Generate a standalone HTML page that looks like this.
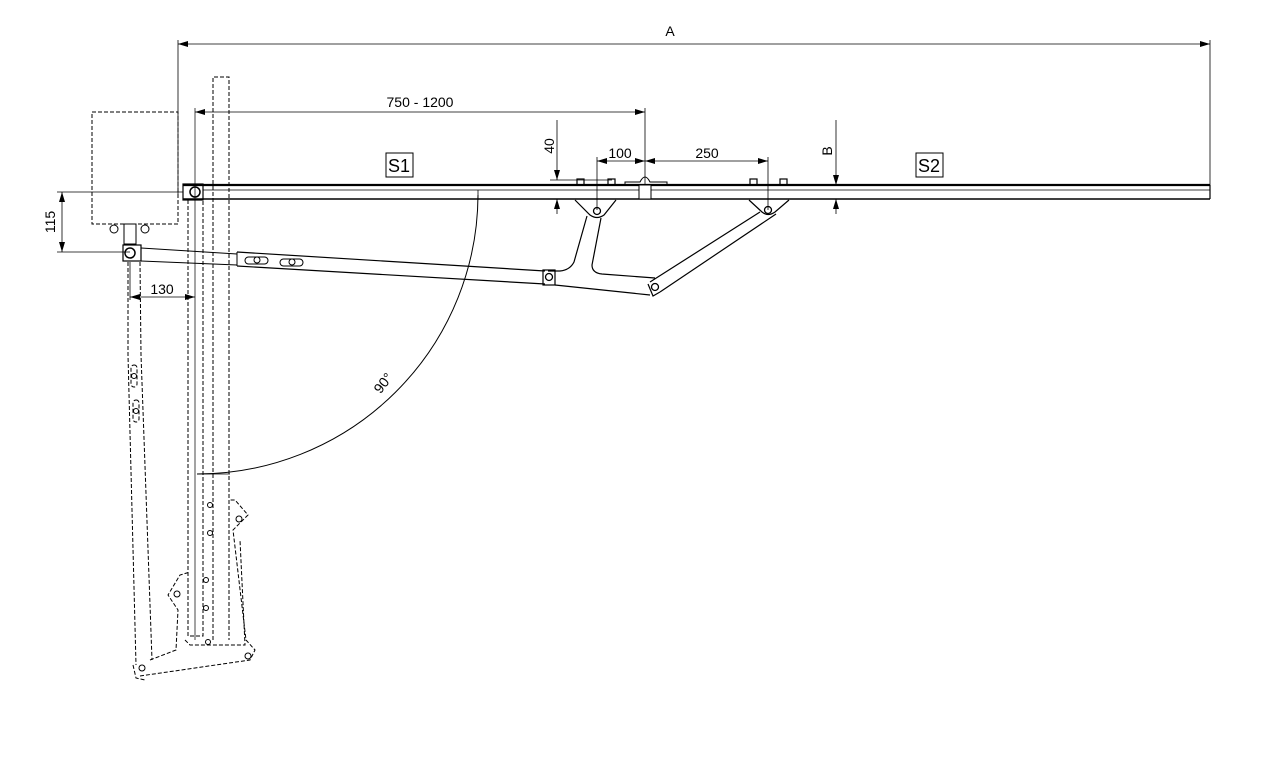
<!DOCTYPE html>
<html><head><meta charset="utf-8"><style>
html,body{margin:0;padding:0;background:#fff;}
svg{display:block;font-family:"Liberation Sans",sans-serif;}
</style></head><body>
<svg width="1271" height="770" viewBox="0 0 1271 770" xmlns="http://www.w3.org/2000/svg">
<defs>
<marker id="ar" viewBox="0 0 10 6" refX="10" refY="3" markerWidth="10" markerHeight="6" orient="auto-start-reverse" markerUnits="userSpaceOnUse"><path d="M0,0 L10,3 L0,6 z" fill="#000"/></marker>
</defs>
<g stroke="#000" fill="none" stroke-width="1">
<line x1="178" y1="40" x2="178" y2="195" stroke-width="0.8"/>
<line x1="1210" y1="40" x2="1210" y2="185" stroke-width="0.8"/>
<line x1="178" y1="44" x2="1210" y2="44" marker-start="url(#ar)" marker-end="url(#ar)" stroke-width="0.8"/>
<line x1="195" y1="108" x2="195" y2="640" stroke="#666" stroke-width="1.2"/>
<line x1="645" y1="108" x2="645" y2="185" stroke-width="0.8"/>
<line x1="195" y1="112" x2="645" y2="112" marker-start="url(#ar)" marker-end="url(#ar)" stroke-width="0.8"/>
<rect x="92" y="112" width="86" height="112" stroke-dasharray="4,2"/>
<path d="M213,640 V77 H229 V640" stroke-dasharray="4,2"/>
<path d="M188,200 V636 H203 V200" stroke-dasharray="4,2"/>
<line x1="183" y1="185" x2="1210" y2="185" stroke-width="2.2"/>
<line x1="203" y1="190" x2="1210" y2="190" stroke-width="0.8"/>
<line x1="183" y1="199" x2="1210" y2="199" stroke-width="1.6"/>
<line x1="1210" y1="185" x2="1210" y2="199" stroke-width="1.2"/>
<rect x="183" y="184" width="20" height="16" stroke-width="1.2"/>
<circle cx="195" cy="192" r="5" stroke-width="1.5"/>
<line x1="57" y1="192" x2="183" y2="192" stroke-width="0.8"/>
<rect x="639" y="185" width="12" height="14" fill="#fff"/>
<path d="M625,185 V182 H640 Q645,172 650,182 H667 V185"/>
<g stroke-width="1.2"><rect x="577" y="179" width="7" height="6"/><rect x="608" y="179" width="7" height="6"/><rect x="750" y="179" width="7" height="6"/><rect x="780" y="179" width="7" height="6"/></g>
<path d="M575,200 L590,215 Q597,220 604,215 L616,200" stroke-width="1.2"/>
<path d="M749,200 L762,212 Q768,217 775,212 L789,200" stroke-width="1.2"/>
<circle cx="597" cy="211" r="3.5" stroke-width="1.3"/>
<circle cx="768" cy="210" r="3.5" stroke-width="1.3"/>
<path d="M587,216 L574,262 Q570,270 560,271 L548,271" stroke-width="1.2"/>
<path d="M601,218 L592,265 Q592,273 602,274 L655,278" stroke-width="1.2"/>
<path d="M760,212 L650,282" stroke-width="1.2"/>
<path d="M776,214 L660,292" stroke-width="1.2"/>
<path d="M648,284 L653,296 L660,292" stroke-width="1.2"/>
<circle cx="655" cy="287" r="3.5" stroke-width="1.3"/>
<rect x="123" y="245" width="18" height="16" stroke-width="1.2"/>
<circle cx="130" cy="253" r="5" stroke-width="1.5"/>
<g stroke-width="1"><circle cx="114" cy="229" r="4"/><circle cx="145" cy="229" r="4"/><rect x="124" y="224" width="12" height="20"/></g>
<line x1="141" y1="248" x2="237" y2="254"/>
<line x1="141" y1="261" x2="237" y2="265"/>
<line x1="237" y1="252" x2="237" y2="266"/>
<line x1="237" y1="252" x2="545" y2="271" stroke-width="1.2"/>
<line x1="237" y1="266" x2="545" y2="284" stroke-width="1.2"/>
<rect x="543" y="270" width="12" height="15" stroke-width="1.2"/>
<circle cx="549" cy="277" r="3.5" stroke-width="1.3"/>
<line x1="555" y1="285" x2="650" y2="295" stroke-width="1.2"/>
<rect x="245" y="257" width="23" height="7" rx="3.5"/><circle cx="257" cy="260" r="3"/>
<rect x="280" y="259" width="23" height="7" rx="3.5"/><circle cx="292" cy="262" r="3"/>
<line x1="57" y1="252" x2="130" y2="252" stroke-width="0.8"/>
<line x1="62" y1="192" x2="62" y2="252" marker-start="url(#ar)" marker-end="url(#ar)" stroke-width="0.8"/>
<line x1="130" y1="262" x2="130" y2="300" stroke-width="0.8"/>
<line x1="130" y1="297" x2="195" y2="297" marker-start="url(#ar)" marker-end="url(#ar)" stroke-width="0.8"/>
<line x1="550" y1="180" x2="612" y2="180" stroke-width="0.8"/>
<line x1="557" y1="120" x2="557" y2="180" marker-end="url(#ar)" stroke-width="0.8"/>
<line x1="557" y1="214" x2="557" y2="199" marker-end="url(#ar)" stroke-width="0.8"/>
<line x1="597" y1="157" x2="597" y2="210" stroke-width="0.8"/>
<line x1="768" y1="157" x2="768" y2="210" stroke-width="0.8"/>
<line x1="597" y1="161" x2="645" y2="161" marker-start="url(#ar)" marker-end="url(#ar)" stroke-width="0.8"/>
<line x1="645" y1="161" x2="768" y2="161" marker-start="url(#ar)" marker-end="url(#ar)" stroke-width="0.8"/>
<line x1="836" y1="120" x2="836" y2="185" marker-end="url(#ar)" stroke-width="0.8"/>
<line x1="836" y1="214" x2="836" y2="199" marker-end="url(#ar)" stroke-width="0.8"/>
<path d="M478,195 A281,280 0 0 1 197,474" stroke-width="1"/>
<line x1="478" y1="190" x2="478" y2="200" stroke-width="0.8"/>
<line x1="197" y1="474" x2="230" y2="474" stroke-width="0.8"/>
<g stroke-dasharray="4,2">
<path d="M128,262 L128,355 L136,665"/>
<path d="M140,262 L141,355 L152,660"/>
<path d="M150,660 L176,650 L178,610 L168,595 L180,575 L190,572"/>
<path d="M140,676 L250,660 L255,650 L246,640 L233,530 L248,515 L235,500 L230,500"/>
<path d="M133,665 L136,678 L145,680"/>
<path d="M185,640 L190,645 L245,645 L240,540"/>
<rect x="131" y="365" width="6" height="22" rx="3"/>
<rect x="133" y="400" width="6" height="22" rx="3"/>
</g>
<g stroke-width="1">
<circle cx="142" cy="668" r="3"/><circle cx="248" cy="656" r="3"/><circle cx="177" cy="594" r="3"/><circle cx="239" cy="519" r="3"/>
<circle cx="134" cy="376" r="2.5"/><circle cx="136" cy="411" r="2.5"/>
<circle cx="210" cy="505" r="2.5"/><circle cx="210" cy="533" r="2.5"/><circle cx="206" cy="580" r="2.5"/><circle cx="206" cy="608" r="2.5"/><circle cx="208" cy="642" r="2.5"/>
</g>
<rect x="386" y="153" width="27" height="24" stroke-width="1"/>
<rect x="916" y="153" width="27" height="24" stroke-width="1"/>
</g>
<g font-size="14" fill="#000">
<text x="670" y="36" text-anchor="middle">A</text>
<text x="420" y="107" text-anchor="middle">750 - 1200</text>
<text x="620" y="158" text-anchor="middle">100</text>
<text x="707" y="158" text-anchor="middle">250</text>
<text x="162" y="294" text-anchor="middle">130</text>
<text x="399" y="172" text-anchor="middle" font-size="18">S1</text>
<text x="929" y="172" text-anchor="middle" font-size="18">S2</text>
<text transform="translate(55,222) rotate(-90)" text-anchor="middle">115</text>
<text transform="translate(554,146) rotate(-90)" text-anchor="middle">40</text>
<text transform="translate(832,151) rotate(-90)" text-anchor="middle">B</text>
<text transform="translate(387,386) rotate(-52)" text-anchor="middle">90°</text>
</g>
</svg>
</body></html>
